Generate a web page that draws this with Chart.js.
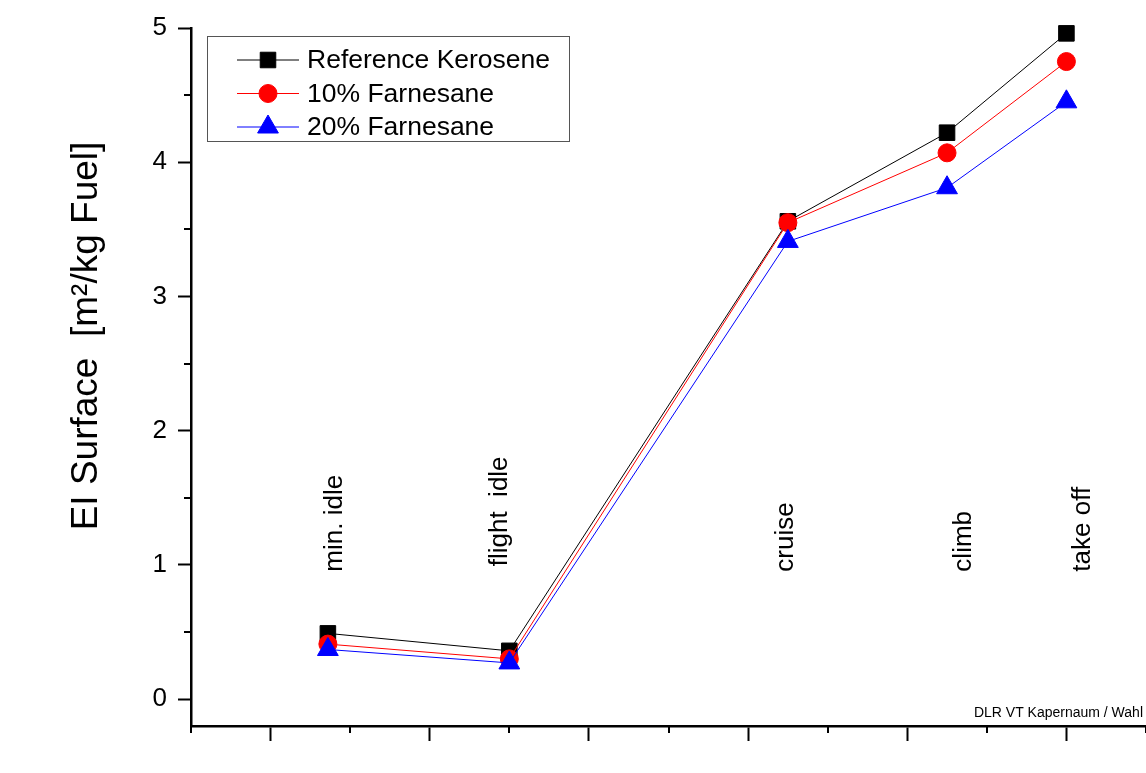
<!DOCTYPE html>
<html lang="en">
<head>
  <meta charset="UTF-8">
  <title>EI Surface</title>
  <script src="https://cdn.jsdelivr.net/npm/chart.js"></script>
  <style>
    html, body { margin: 0; padding: 0; background: #fff; }
    #wrap { width: 1146px; height: 773px; }
  </style>
</head>
<body>
  <div id="wrap"><canvas id="chart" width="1146" height="773"></canvas></div>

  <script>
    // engine operating points (x position on the thrust axis)
    const phases = ['min. idle', 'flight  idle', 'cruise', 'climb', 'take off'];
    const phaseX = [1.36, 2.5, 4.25, 5.25, 6.0];

    // EI surface [m2/kg fuel]
    const kerosene = [0.49, 0.36, 3.56, 4.22, 4.96];
    const farn10 = [0.41, 0.30, 3.55, 4.07, 4.75];
    const farn20 = [0.37, 0.27, 3.41, 3.81, 4.45];

    // tick values
    const majorX = [1, 2, 3, 4, 5, 6];
    const minorX = [0.5, 1.5, 2.5, 3.5, 4.5, 5.5, 6.5];
    const majorY = [0, 1, 2, 3, 4, 5];
    const minorY = [0.5, 1.5, 2.5, 3.5, 4.5];

    // where the rotated phase names sit (data units)
    const phaseLabelX = [1.45, 2.485, 4.28, 5.40, 6.148];
    const phaseLabelY = [0.95, 0.99, 0.95, 0.95, 0.95];

    const FONT = "'Liberation Sans', Arial, sans-serif";

    function toPoints(values) {
      return values.map((v, i) => ({ x: phaseX[i], y: v }));
    }

    // minor ticks, axis title, phase names, legend box and the credit line
    const extras = {
      id: 'extras',
      afterDraw(chart) {
        const ctx = chart.ctx;
        const area = chart.chartArea;
        const xs = chart.scales.x;
        const ys = chart.scales.y;

        ctx.save();
        ctx.strokeStyle = '#000';
        ctx.lineWidth = 2;
        minorY.forEach(v => {
          const py = Math.round(ys.getPixelForValue(v));
          ctx.beginPath();
          ctx.moveTo(area.left - 7, py);
          ctx.lineTo(area.left, py);
          ctx.stroke();
        });
        minorX.forEach(v => {
          const px = Math.round(xs.getPixelForValue(v));
          ctx.beginPath();
          ctx.moveTo(px, area.bottom);
          ctx.lineTo(px, area.bottom + 7);
          ctx.stroke();
        });

        // y axis title
        ctx.fillStyle = '#000';
        ctx.save();
        ctx.translate(97, 336);
        ctx.rotate(-Math.PI / 2);
        ctx.font = '37px ' + FONT;
        ctx.textAlign = 'center';
        ctx.textBaseline = 'alphabetic';
        ctx.fillText('EI Surface  [m²/kg Fuel]', 0, 0);
        ctx.restore();

        // phase names
        ctx.font = '26px ' + FONT;
        ctx.textAlign = 'left';
        ctx.textBaseline = 'alphabetic';
        phases.forEach((name, i) => {
          ctx.save();
          ctx.translate(xs.getPixelForValue(phaseLabelX[i]), ys.getPixelForValue(phaseLabelY[i]));
          ctx.rotate(-Math.PI / 2);
          ctx.fillText(name, 0, 0);
          ctx.restore();
        });

        // legend
        ctx.strokeStyle = '#555';
        ctx.lineWidth = 1;
        ctx.strokeRect(207.5, 36.5, 362, 105);
        ctx.font = '26.5px ' + FONT;
        ctx.textBaseline = 'middle';
        chart.data.datasets.forEach((ds, i) => {
          const ly = 60 + i * 33.5;
          ctx.strokeStyle = ds.borderColor;
          ctx.lineWidth = 1;
          ctx.beginPath();
          ctx.moveTo(237, ly);
          ctx.lineTo(299, ly);
          ctx.stroke();
          ctx.fillStyle = ds.borderColor;
          Chart.helpers.drawPoint(ctx, {
            pointStyle: ds.pointStyle,
            radius: ds.pointRadius,
            rotation: 0,
            borderWidth: 1
          }, 268, ly);
          ctx.fillStyle = '#000';
          ctx.fillText(ds.label, 307, ly + 1);
        });

        // credit
        ctx.font = '14px ' + FONT;
        ctx.textAlign = 'right';
        ctx.fillText('DLR VT Kapernaum / Wahl', 1143, 713);
        ctx.restore();
      }
    };

    new Chart(document.getElementById('chart'), {
      type: 'line',
      data: {
        datasets: [
          {
            label: 'Reference Kerosene',
            data: toPoints(kerosene),
            borderColor: '#000000',
            backgroundColor: '#000000',
            pointStyle: 'rect',
            pointRadius: 11,
            order: 3
          },
          {
            label: '10% Farnesane',
            data: toPoints(farn10),
            borderColor: '#ff0000',
            backgroundColor: '#ff0000',
            pointStyle: 'circle',
            pointRadius: 9,
            order: 2
          },
          {
            label: '20% Farnesane',
            data: toPoints(farn20),
            borderColor: '#0000ff',
            backgroundColor: '#0000ff',
            pointStyle: 'triangle',
            pointRadius: 12,
            order: 1
          }
        ].map(ds => Object.assign(ds, {
          borderWidth: 1,
          pointBorderWidth: 1,
          pointBorderColor: ds.borderColor,
          pointBackgroundColor: ds.borderColor,
          pointHoverRadius: ds.pointRadius,
          tension: 0,
          fill: false,
          clip: false
        }))
      },
      options: {
        responsive: false,
        animation: false,
        events: [],
        layout: { autoPadding: false, padding: { top: 28, right: 0, bottom: 0, left: 0 } },
        plugins: {
          legend: { display: false },
          tooltip: { enabled: false }
        },
        scales: {
          x: {
            type: 'linear',
            min: 0.5,
            max: 6.5,
            afterFit: s => { s.height = 47; },
            afterBuildTicks: s => { s.ticks = majorX.map(v => ({ value: v })); },
            ticks: { display: false },
            grid: { drawOnChartArea: false, drawTicks: true, tickLength: 15, tickWidth: 2, tickColor: '#000' },
            border: { display: true, color: '#000', width: 2.5 }
          },
          y: {
            type: 'linear',
            min: -0.2,
            max: 5,
            afterFit: s => { s.width = 191; },
            afterBuildTicks: s => { s.ticks = majorY.map(v => ({ value: v })); },
            ticks: {
              color: '#000',
              padding: 11,
              font: { family: FONT, size: 26 }
            },
            grid: { drawOnChartArea: false, drawTicks: true, tickLength: 13, tickWidth: 2, tickColor: '#000' },
            border: { display: true, color: '#000', width: 2.5 }
          }
        }
      },
      plugins: [extras]
    });
  </script>
</body>
</html>
